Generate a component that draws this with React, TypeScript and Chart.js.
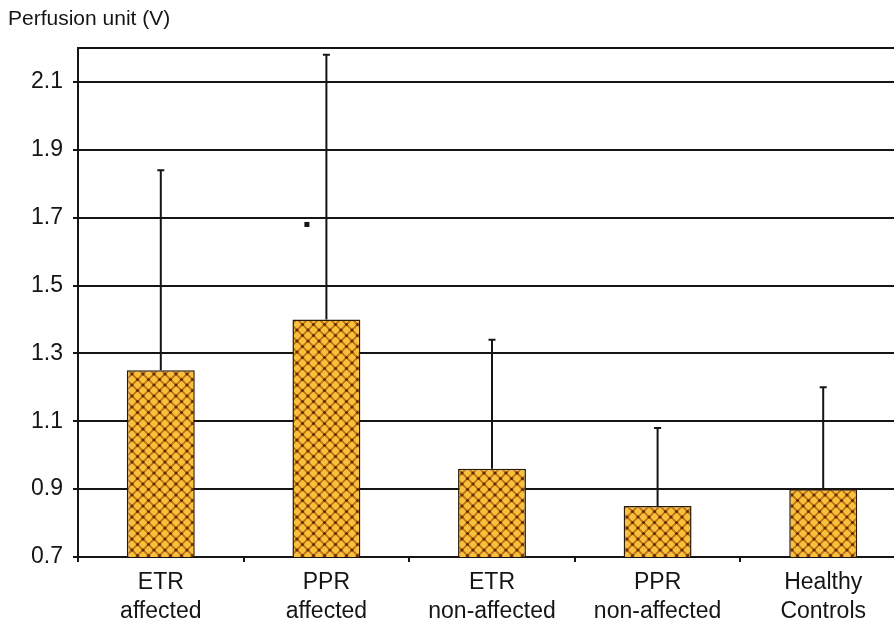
import React, { useEffect, useRef } from "react";
import { Chart, registerables } from "chart.js";

Chart.register(...registerables);

const categories: string[][] = [
  ["ETR", "affected"],
  ["PPR", "affected"],
  ["ETR", "non-affected"],
  ["PPR", "non-affected"],
  ["Healthy", "Controls"],
];
const means: number[] = [1.25, 1.4, 0.96, 0.85, 0.9];
const upperErrors: number[] = [1.84, 2.18, 1.34, 1.08, 1.2];
const yTickValues: number[] = [0.7, 0.9, 1.1, 1.3, 1.5, 1.7, 1.9, 2.1, 2.2];
const significanceMarker = { index: 1, value: 1.68 };
const axisTitle = "Perfusion unit (V)";

const FONT = "'Liberation Sans', Arial, sans-serif";
const INK = "#151515";

// Gold crosshatch fill for the bars
function makeHatch(): CanvasPattern | string {
  const size = 11;
  const c = document.createElement("canvas");
  c.width = size;
  c.height = size;
  const g = c.getContext("2d");
  if (!g) return "#F3B232";
  g.fillStyle = "#F9C03E";
  g.fillRect(0, 0, size, size);
  g.strokeStyle = "#BC7212";
  g.lineWidth = 1.8;
  g.beginPath();
  g.moveTo(-1, -1);
  g.lineTo(size + 1, size + 1);
  g.moveTo(size + 1, -1);
  g.lineTo(-1, size + 1);
  g.stroke();
  g.fillStyle = "#642E03";
  const dots: [number, number][] = [
    [size / 2, size / 2],
    [0, 0],
    [size, 0],
    [0, size],
    [size, size],
  ];
  dots.forEach(([x, y]) => {
    g.beginPath();
    g.arc(x, y, 1.6, 0, Math.PI * 2);
    g.fill();
  });
  const p = g.createPattern(c, "repeat");
  return p || "#F3B232";
}

const errorBarPlugin = {
  id: "errorBars",
  afterDatasetsDraw(chart: any) {
    const ctx = chart.ctx;
    const meta = chart.getDatasetMeta(0);
    const yScale = chart.scales.y;
    ctx.save();
    ctx.strokeStyle = INK;
    ctx.lineWidth = 2;
    meta.data.forEach((bar: any, i: number) => {
      const yTop = yScale.getPixelForValue(upperErrors[i]);
      ctx.beginPath();
      ctx.moveTo(bar.x, bar.y);
      ctx.lineTo(bar.x, yTop);
      ctx.moveTo(bar.x - 3.5, yTop);
      ctx.lineTo(bar.x + 3.5, yTop);
      ctx.stroke();
    });
    // significance mark beside the PPR affected whisker
    const ref = meta.data[significanceMarker.index];
    if (ref) {
      const my = yScale.getPixelForValue(significanceMarker.value);
      ctx.fillStyle = INK;
      ctx.fillRect(ref.x - 22, my - 2.5, 5, 5);
    }
    ctx.restore();
  },
};

const titlePlugin = {
  id: "axisHeading",
  afterDraw(chart: any) {
    const ctx = chart.ctx;
    ctx.save();
    ctx.fillStyle = INK;
    ctx.font = `21px ${FONT}`;
    ctx.textAlign = "left";
    ctx.textBaseline = "middle";
    ctx.fillText(axisTitle, 8, 19);
    ctx.restore();
  },
};

export default function App() {
  const canvasRef = useRef<HTMLCanvasElement | null>(null);

  useEffect(() => {
    if (!canvasRef.current) return;
    const hatch = makeHatch();
    const chart = new Chart(canvasRef.current, {
      type: "bar",
      data: {
        labels: categories,
        datasets: [
          {
            data: means,
            backgroundColor: hatch as any,
            borderColor: "#2B1A06",
            borderWidth: 1.5,
            barPercentage: 0.41,
            categoryPercentage: 1,
          },
        ],
      },
      options: {
        animation: false,
        responsive: false,
        maintainAspectRatio: false,
        layout: { padding: { top: 48, left: 0, right: 6, bottom: 0 } },
        plugins: {
          legend: { display: false },
          tooltip: { enabled: false },
          title: { display: false },
        },
        scales: {
          x: {
            afterFit(scale: any) {
              scale.height = 71;
            },
            grid: {
              display: true,
              drawOnChartArea: false,
              drawTicks: true,
              tickLength: 5,
              color: INK,
              lineWidth: 2,
            },
            border: { display: true, color: INK, width: 2 },
            ticks: {
              color: INK,
              font: { family: FONT, size: 23, lineHeight: 1.26 },
              padding: 6,
              maxRotation: 0,
              autoSkip: false,
            },
          },
          y: {
            min: 0.7,
            max: 2.2,
            afterFit(scale: any) {
              scale.width = 78;
            },
            afterBuildTicks(scale: any) {
              scale.ticks = yTickValues.map((v) => ({ value: v }));
            },
            grid: {
              color: INK,
              lineWidth: 2,
              drawTicks: true,
              tickLength: 5,
              tickColor: (c: any) =>
                c.tick && c.tick.value === 2.2 ? "rgba(0,0,0,0)" : INK,
            },
            border: { display: true, color: INK, width: 2 },
            ticks: {
              color: INK,
              font: { family: FONT, size: 23 },
              padding: 10,
              callback: (v: any) => (Number(v) === 2.2 ? "" : Number(v).toFixed(1)),
            },
          },
        },
      },
      plugins: [errorBarPlugin, titlePlugin],
    });
    return () => chart.destroy();
  }, []);

  return (
    <div
      style={{
        position: "fixed",
        left: 0,
        top: 0,
        width: 894,
        height: 628,
        overflow: "hidden",
        background: "#fff",
      }}
    >
      <canvas ref={canvasRef} width={912} height={628} style={{ display: "block" }} />
    </div>
  );
}
